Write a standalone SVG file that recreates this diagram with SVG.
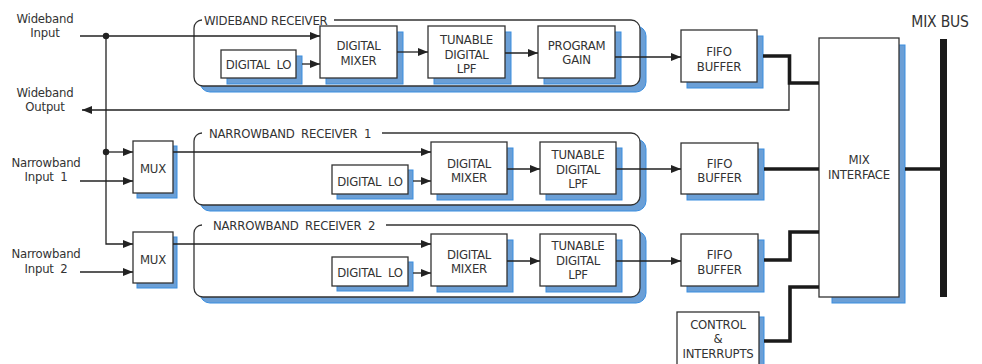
<svg xmlns="http://www.w3.org/2000/svg" width="982" height="364" viewBox="0 0 982 364">
<style>
.box{fill:#fff;stroke:#333;stroke-width:1.3}
.sh{fill:#6b9fd6;stroke:#3a8ee0;stroke-width:1}
.rx{fill:none;stroke:#333;stroke-width:1.3}
.t{font-family:"DejaVu Sans Condensed","DejaVu Sans",sans-serif;font-stretch:condensed;font-size:13px;letter-spacing:-0.2px;fill:#333;text-anchor:middle}
.l{text-anchor:start;word-spacing:3px}
.w{fill:none;stroke:#222;stroke-width:1.3}
.k{fill:none;stroke:#1a1a1a;stroke-width:3.6}
</style>
<defs>
<marker id="a" markerUnits="userSpaceOnUse" markerWidth="10" markerHeight="8" refX="10" refY="4" orient="auto">
<path d="M0,0 L10,4 L0,8 z" fill="#222"/>
</marker>
</defs>

<g id="labels">
<text class="t" x="45" y="23">Wideband</text>
<text class="t" x="45" y="37">Input</text>
<text class="t" x="45" y="97">Wideband</text>
<text class="t" x="45" y="111">Output</text>
<text class="t" x="46" y="167">Narrowband</text>
<text class="t" x="46" y="181" style="word-spacing:3px">Input 1</text>
<text class="t" x="46" y="258">Narrowband</text>
<text class="t" x="46" y="273" style="word-spacing:3px">Input 2</text>
<text class="t" x="940" y="27" style="font-size:15.5px">MIX BUS</text>
</g>

<g id="wideband-receiver">
<rect class="sh" x="200" y="26" width="446" height="66" rx="10"/>
<rect x="194" y="20" width="446" height="66" rx="9" fill="#fff"/>
<path class="rx" d="M334,20 H631 A9,9 0 0 1 640,29 V77 A9,9 0 0 1 631,86 H203 A9,9 0 0 1 194,77 V28 A8,8 0 0 1 202,20"/>
<text class="t l" x="204" y="24.5" style="word-spacing:0">WIDEBAND RECEIVER</text>
</g>
<g id="narrowband-receiver-1">
<rect class="sh" x="200" y="139" width="446" height="72" rx="10"/>
<rect x="194" y="133" width="446" height="72" rx="9" fill="#fff"/>
<path class="rx" d="M382,133 H631 A9,9 0 0 1 640,142 V196 A9,9 0 0 1 631,205 H203 A9,9 0 0 1 194,196 V141 A8,8 0 0 1 202,133"/>
<text class="t l" x="209" y="137.5">NARROWBAND RECEIVER 1</text>
</g>
<g id="narrowband-receiver-2">
<rect class="sh" x="200" y="231" width="446" height="72" rx="10"/>
<rect x="194" y="225" width="446" height="72" rx="9" fill="#fff"/>
<path class="rx" d="M386,225 H631 A9,9 0 0 1 640,234 V288 A9,9 0 0 1 631,297 H203 A9,9 0 0 1 194,288 V233 A8,8 0 0 1 202,225"/>
<text class="t l" x="213" y="229.5">NARROWBAND RECEIVER 2</text>
</g>

<g id="wb-lo"><rect class="sh" x="227" y="56" width="75" height="28"/><rect class="box" x="221" y="50" width="75" height="28"/><text class="t" x="258.5" y="69" style="word-spacing:3px">DIGITAL LO</text></g>
<g id="wb-mixer"><rect class="sh" x="326" y="32" width="77" height="52"/><rect class="box" x="320" y="26" width="77" height="52"/><text class="t" x="358.5" y="49.5">DIGITAL</text><text class="t" x="358.5" y="65">MIXER</text></g>
<g id="wb-lpf"><rect class="sh" x="434" y="32" width="77" height="52"/><rect class="box" x="428" y="26" width="77" height="52"/><text class="t" x="466.5" y="44">TUNABLE</text><text class="t" x="466.5" y="58.5">DIGITAL</text><text class="t" x="466.5" y="73">LPF</text></g>
<g id="wb-gain"><rect class="sh" x="544" y="32" width="77" height="52"/><rect class="box" x="538" y="26" width="77" height="52"/><text class="t" x="576.5" y="49.5">PROGRAM</text><text class="t" x="576.5" y="64">GAIN</text></g>
<g id="fifo-1"><rect class="sh" x="687" y="36" width="76" height="52"/><rect class="box" x="681" y="30" width="76" height="52"/><text class="t" x="719" y="56">FIFO</text><text class="t" x="719" y="70.5">BUFFER</text></g>

<g id="mux-1"><rect class="sh" x="137" y="146" width="40" height="52"/><rect class="box" x="133" y="141" width="40" height="52"/><text class="t" x="153" y="173">MUX</text></g>
<g id="nb1-lo"><rect class="sh" x="337" y="170" width="76" height="29"/><rect class="box" x="332" y="165" width="76" height="29"/><text class="t" x="370" y="186" style="word-spacing:3px">DIGITAL LO</text></g>
<g id="nb1-mixer"><rect class="sh" x="437" y="148" width="76" height="52"/><rect class="box" x="431" y="142" width="76" height="52"/><text class="t" x="469" y="167.5">DIGITAL</text><text class="t" x="469" y="182">MIXER</text></g>
<g id="nb1-lpf"><rect class="sh" x="546" y="148" width="76" height="52"/><rect class="box" x="540" y="142" width="76" height="52"/><text class="t" x="578" y="159">TUNABLE</text><text class="t" x="578" y="173.5">DIGITAL</text><text class="t" x="578" y="188">LPF</text></g>
<g id="fifo-2"><rect class="sh" x="687" y="149" width="77" height="51"/><rect class="box" x="681" y="143" width="77" height="51"/><text class="t" x="719.5" y="167.5">FIFO</text><text class="t" x="719.5" y="182">BUFFER</text></g>

<g id="mux-2"><rect class="sh" x="137" y="237" width="40" height="51"/><rect class="box" x="133" y="232" width="40" height="51"/><text class="t" x="153" y="264">MUX</text></g>
<g id="nb2-lo"><rect class="sh" x="337" y="262" width="76" height="29"/><rect class="box" x="332" y="257" width="76" height="29"/><text class="t" x="370" y="277" style="word-spacing:3px">DIGITAL LO</text></g>
<g id="nb2-mixer"><rect class="sh" x="437" y="240" width="76" height="52"/><rect class="box" x="431" y="234" width="76" height="52"/><text class="t" x="469" y="258.5">DIGITAL</text><text class="t" x="469" y="273">MIXER</text></g>
<g id="nb2-lpf"><rect class="sh" x="546" y="240" width="76" height="52"/><rect class="box" x="540" y="234" width="76" height="52"/><text class="t" x="578" y="250">TUNABLE</text><text class="t" x="578" y="264.5">DIGITAL</text><text class="t" x="578" y="279">LPF</text></g>
<g id="fifo-3"><rect class="sh" x="687" y="240" width="77" height="52"/><rect class="box" x="681" y="234" width="77" height="52"/><text class="t" x="719.5" y="259">FIFO</text><text class="t" x="719.5" y="273.5">BUFFER</text></g>

<g id="control"><rect class="sh" x="682" y="317" width="82" height="52"/><rect class="box" x="677" y="312" width="82" height="54"/><text class="t" x="718" y="328.5">CONTROL</text><text class="t" x="718" y="343">&amp;</text><text class="t" x="718" y="357.5">INTERRUPTS</text></g>

<g id="mix-interface"><rect class="sh" x="832" y="45" width="73" height="258"/><rect class="box" x="819" y="38" width="80" height="259"/><text class="t" x="859" y="164">MIX</text><text class="t" x="859" y="178.5">INTERFACE</text></g>

<g id="mix-bus"><rect x="940" y="39" width="7" height="258" fill="#1a1a1a"/></g>

<g id="connectors">
<path class="w" d="M80,36 H320" marker-end="url(#a)"/>
<circle cx="106" cy="36" r="3.2" fill="#222"/>
<circle cx="106" cy="152" r="3.2" fill="#222"/>
<path class="w" d="M106,36 V244 H133" marker-end="url(#a)"/>
<path class="w" d="M106,152 H133" marker-end="url(#a)"/>
<path class="w" d="M80,181 H133" marker-end="url(#a)"/>
<path class="w" d="M80,272 H133" marker-end="url(#a)"/>
<path class="w" d="M173,152 H431" marker-end="url(#a)"/>
<path class="w" d="M173,244 H431" marker-end="url(#a)"/>
<path class="w" d="M302,64 H320" marker-end="url(#a)"/>
<path class="w" d="M413,181 H431" marker-end="url(#a)"/>
<path class="w" d="M413,273 H431" marker-end="url(#a)"/>
<path class="w" d="M397,52 H428" marker-end="url(#a)"/>
<path class="w" d="M505,53 H538" marker-end="url(#a)"/>
<path class="w" d="M507,169 H540" marker-end="url(#a)"/>
<path class="w" d="M507,261 H540" marker-end="url(#a)"/>
<path class="w" d="M615,57 H681" marker-end="url(#a)"/>
<path class="w" d="M616,169 H681" marker-end="url(#a)"/>
<path class="w" d="M616,261 H681" marker-end="url(#a)"/>
<path class="w" d="M789,83 V110 H82" marker-end="url(#a)"/>
<path class="k" d="M763,56 H789.5 V83 H819"/>
<path class="k" d="M764,169 H819"/>
<path class="k" d="M764,260 H790 V232 H819"/>
<path class="k" d="M764,341 H790 V287 H819"/>
<path class="k" d="M905,169 H940"/>
</g>
</svg>
